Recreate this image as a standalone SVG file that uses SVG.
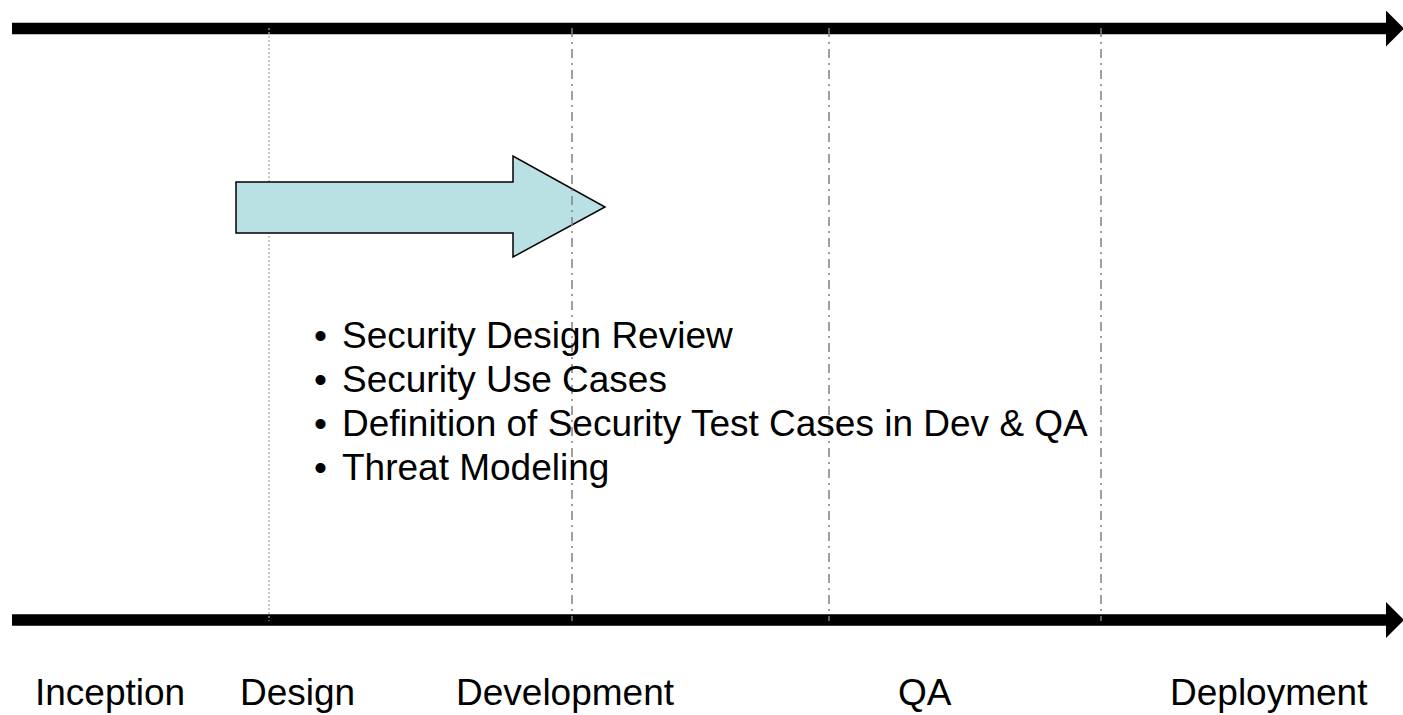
<svg xmlns="http://www.w3.org/2000/svg" width="1403" height="715" viewBox="0 0 1403 715">
  <style>
    .txt { font-family: "Liberation Sans", Arial, sans-serif; font-size: 37px; fill: #000; }
    .label { font-family: "Liberation Sans", Arial, sans-serif; font-size: 37px; fill: #000; }
    .axis { stroke: #000; stroke-width: 11.5; fill: none; }
    .sep-dot { stroke: #a8a8a8; stroke-width: 1.2; stroke-dasharray: 2 2; fill: none; }
    .sep { stroke: #808080; stroke-width: 1.5; stroke-dasharray: 9 5 2 5; fill: none; }
    .flow { fill: #b9e0e3; stroke: #000; stroke-width: 1.5; stroke-linejoin: miter; }
  </style>
  <defs>
    <marker id="head" markerUnits="userSpaceOnUse" viewBox="0 0 18 36" markerWidth="18" markerHeight="36" refX="0" refY="18" orient="auto">
      <path d="M0,0 L18,18 L0,36 Z" fill="#000"/>
    </marker>
  </defs>

  <rect width="1403" height="715" fill="#fff"/>

  <!-- timeline axes -->
  <g id="connectors">
    <line id="axis-top" class="axis" x1="12" y1="28.5" x2="1386" y2="28.5" marker-end="url(#head)"/>
    <line id="axis-bottom" class="axis" x1="12" y1="620" x2="1386" y2="620" marker-end="url(#head)"/>
  </g>

  <!-- phase boundary: inception / design -->
  <g id="sep-design">
    <line class="sep-dot" x1="269" y1="28" x2="269" y2="621"/>
  </g>

  <!-- block arrow spanning the design phase -->
  <g id="design-arrow">
    <polygon class="flow" points="236,182 513,182 513,156 605,207 513,257 513,233 236,233"/>
  </g>

  <!-- remaining phase boundaries -->
  <g id="sep-development">
    <line class="sep" x1="572" y1="28" x2="572" y2="621"/>
  </g>
  <g id="sep-qa">
    <line class="sep" x1="829" y1="28" x2="829" y2="621"/>
  </g>
  <g id="sep-deployment">
    <line class="sep" x1="1101" y1="28" x2="1101" y2="621"/>
  </g>

  <!-- design-phase activities -->
  <g id="activities">
    <text class="txt" y="348"><tspan x="314">•</tspan><tspan x="342">Security Design Review</tspan></text>
    <text class="txt" y="392"><tspan x="314">•</tspan><tspan x="342">Security Use Cases</tspan></text>
    <text class="txt" y="436"><tspan x="314">•</tspan><tspan x="342">Definition of Security Test Cases in Dev &amp; QA</tspan></text>
    <text class="txt" y="480"><tspan x="314">•</tspan><tspan x="342">Threat Modeling</tspan></text>
  </g>

  <!-- phase labels -->
  <g id="phase-inception"><text class="label" x="35" y="705">Inception</text></g>
  <g id="phase-design"><text class="label" x="240" y="705">Design</text></g>
  <g id="phase-development"><text class="label" x="456" y="705">Development</text></g>
  <g id="phase-qa"><text class="label" x="898" y="705">QA</text></g>
  <g id="phase-deployment"><text class="label" x="1170" y="705">Deployment</text></g>
</svg>
